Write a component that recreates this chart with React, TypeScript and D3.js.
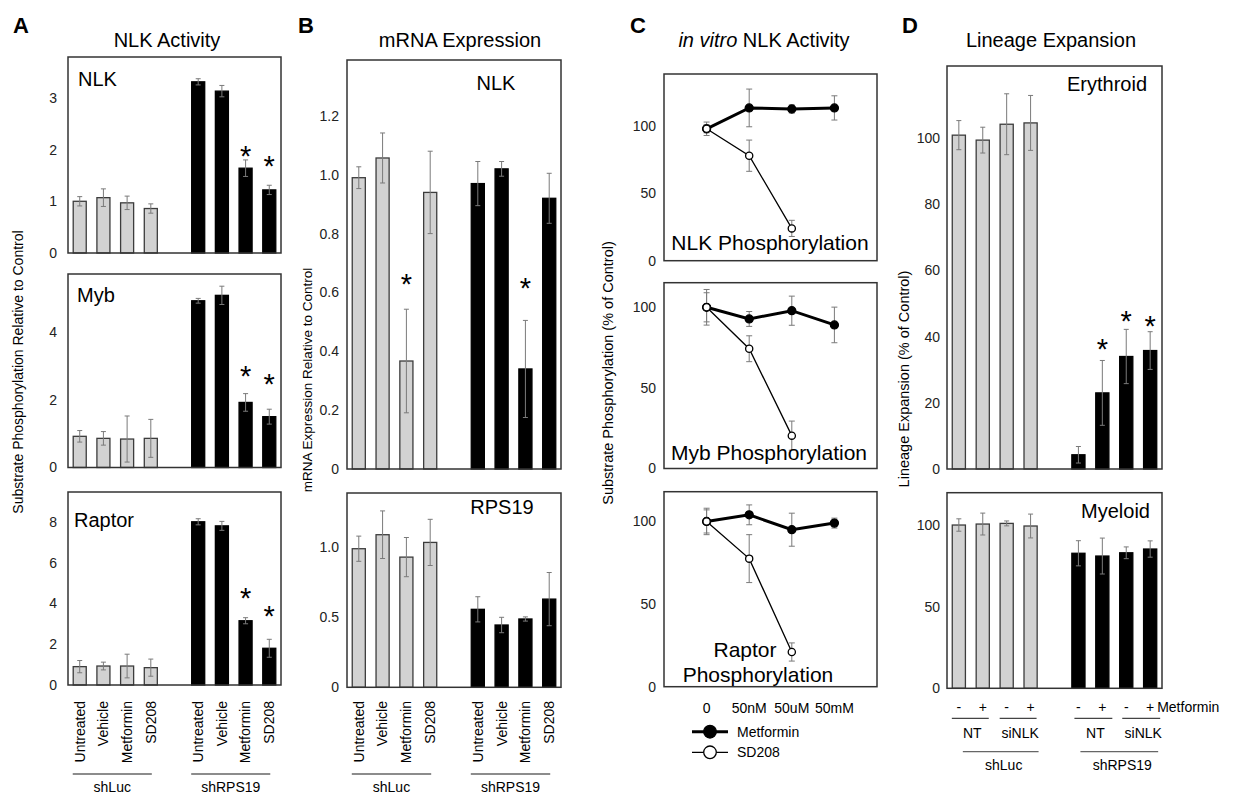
import React, { useEffect, useRef } from 'react';
import * as d3 from 'd3';

const FONT = '"Liberation Sans", Arial, Helvetica, sans-serif';

// shared categories for the bar panels
const treatments = ['Untreated', 'Vehicle', 'Metformin', 'SD208'];
const groups = ['shLuc', 'shRPS19'];

// A - NLK activity (substrate phosphorylation relative to control)
const nlkLuc = [1.0, 1.07, 0.97, 0.86];
const nlkLucErr = [0.09, 0.17, 0.13, 0.09];
const nlkRps = [3.31, 3.13, 1.64, 1.22];
const nlkRpsErr = [0.06, 0.11, 0.16, 0.09];
const nlkStar = [null, null, 2.0, 1.8];

const mybLuc = [0.92, 0.86, 0.84, 0.86];
const mybLucErr = [0.17, 0.2, 0.68, 0.56];
const mybRps = [4.92, 5.08, 1.92, 1.5];
const mybRpsErr = [0.07, 0.27, 0.26, 0.22];
const mybStar = [null, null, 2.87, 2.63];

const raptorLuc = [0.9, 0.93, 0.93, 0.85];
const raptorLucErr = [0.3, 0.19, 0.58, 0.42];
const raptorRps = [8.0, 7.8, 3.15, 1.8];
const raptorRpsErr = [0.15, 0.22, 0.15, 0.44];
const raptorStar = [null, null, 4.57, 3.7];

// B - mRNA expression relative to control
const mrnaNlkLuc = [0.99, 1.057, 0.367, 0.94];
const mrnaNlkLucErr = [0.037, 0.085, 0.176, 0.14];
const mrnaNlkLucStar = [null, null, 0.65, null];
const mrnaNlkRps = [0.97, 1.02, 0.34, 0.92];
const mrnaNlkRpsErr = [0.075, 0.025, 0.165, 0.085];
const mrnaNlkRpsStar = [null, null, 0.637, null];

const rps19Luc = [0.99, 1.09, 0.93, 1.035];
const rps19LucErr = [0.09, 0.17, 0.14, 0.165];
const rps19Rps = [0.557, 0.445, 0.488, 0.63];
const rps19RpsErr = [0.09, 0.055, 0.015, 0.19];

// C - in vitro NLK activity (% of control)
const doses = ['0', '50nM', '50uM', '50mM'];
const cNlkMet = [98, 113.5, 112.7, 113.5];
const cNlkMetErr = [3, 14, 3, 9];
const cNlkSd = [98, 78, 24];
const cNlkSdErr = [5, 11.6, 6];
const cMybMet = [99.6, 92.4, 97.5, 88.7];
const cMybMetErr = [11, 4.6, 9, 11];
const cMybSd = [99.6, 74, 20.3];
const cMybSdErr = [9, 8, 9];
const cRapMet = [100, 104, 95, 99];
const cRapMetErr = [7, 6, 10, 3];
const cRapSd = [100, 77.5, 21];
const cRapSdErr = [8, 14.5, 5.5];

// D - lineage expansion (% of control)
const sirna = ['NT', 'NT', 'siNLK', 'siNLK'];
const metformin = ['-', '+', '-', '+'];
const eryLuc = [100.9, 99.4, 104.2, 104.6];
const eryLucErr = [4.4, 3.9, 9.2, 8.3];
const eryRps = [4.3, 23, 34, 35.8];
const eryRpsErr = [2.5, 9.8, 8.2, 5.7];
const eryStar = [null, 38, 46.5, 45];
const myeLuc = [100, 100.6, 101, 99.4];
const myeLucErr = [3.8, 6.7, 1.5, 7.3];
const myeRps = [82.7, 81, 83, 85.3];
const myeRpsErr = [7.7, 11, 3.6, 5];

const slots = [
  ...[0, 1, 2, 3].map((i) => `${groups[0]}|${i}`),
  'gap',
  ...[0, 1, 2, 3].map((i) => `${groups[1]}|${i}`),
];

const GRAY = '#d2d2d2';
const ERR = '#7a7a7a';

function barPanel(svg, p) {
  const g = svg.append('g');
  const x = d3.scaleBand().domain(slots).range([p.x0, p.x1]).paddingInner(0.45).paddingOuter(0.22);
  const y = d3.scaleLinear().domain([0, p.max]).range([p.base, p.top]);

  const rows = groups.flatMap((grp, gi) =>
    p.vals[gi].map((v, i) => ({
      key: `${grp}|${i}`,
      gi,
      v,
      e: p.errs[gi][i],
      star: p.stars ? p.stars[gi][i] : null,
    }))
  );

  g.selectAll('rect.bar')
    .data(rows)
    .join('rect')
    .attr('x', (d) => x(d.key))
    .attr('y', (d) => y(d.v))
    .attr('width', x.bandwidth())
    .attr('height', (d) => y(0) - y(d.v))
    .attr('fill', (d) => (d.gi === 0 ? GRAY : '#000'))
    .attr('stroke', (d) => (d.gi === 0 ? '#3c3c3c' : '#000'))
    .attr('stroke-width', 1.3);

  const cx = (d) => x(d.key) + x.bandwidth() / 2;
  const eb = g.selectAll('g.err').data(rows).join('g').attr('stroke', ERR).attr('stroke-width', 1);
  eb.append('line').attr('x1', cx).attr('x2', cx).attr('y1', (d) => y(Math.max(0, d.v - d.e))).attr('y2', (d) => y(d.v + d.e));
  eb.append('line').attr('x1', (d) => cx(d) - 2.5).attr('x2', (d) => cx(d) + 2.5).attr('y1', (d) => y(d.v + d.e)).attr('y2', (d) => y(d.v + d.e));
  eb.append('line').attr('x1', (d) => cx(d) - 2.5).attr('x2', (d) => cx(d) + 2.5).attr('y1', (d) => y(Math.max(0, d.v - d.e))).attr('y2', (d) => y(Math.max(0, d.v - d.e)));

  g.selectAll('text.star')
    .data(rows.filter((d) => d.star != null))
    .join('text')
    .attr('x', cx)
    .attr('y', (d) => y(d.star) + 16)
    .attr('text-anchor', 'middle')
    .attr('font-size', 29)
    .text('*');

  g.append('rect')
    .attr('x', p.x0)
    .attr('y', p.top)
    .attr('width', p.x1 - p.x0)
    .attr('height', p.base - p.top)
    .attr('fill', 'none')
    .attr('stroke', '#333')
    .attr('stroke-width', 1.5);

  const ax = g
    .append('g')
    .attr('transform', `translate(${p.x0},0)`)
    .call(d3.axisLeft(y).tickValues(p.ticks).tickSize(0).tickPadding(p.pad).tickFormat(p.fmt));
  ax.select('.domain').remove();
  ax.selectAll('text').attr('font-size', 14).attr('font-family', FONT).attr('fill', '#222');

  g.append('text')
    .attr('x', p.lx)
    .attr('y', p.ly)
    .attr('text-anchor', p.anchor || 'start')
    .attr('font-size', 20)
    .text(p.label);

  return { x, rows, cx };
}

function treatmentAxis(svg, x) {
  const g = svg.append('g');
  groups.forEach((grp, gi) => {
    const keys = [0, 1, 2, 3].map((i) => `${grp}|${i}`);
    const centers = keys.map((k) => x(k) + x.bandwidth() / 2);
    g.selectAll(null)
      .data(treatments)
      .join('text')
      .attr('transform', (d, i) => `translate(${centers[i]},701) rotate(-90)`)
      .attr('text-anchor', 'end')
      .attr('dy', '0.35em')
      .attr('font-size', 14)
      .text((d) => d);
    const a = centers[0] - 7;
    const b = centers[3] + 1;
    g.append('line').attr('x1', a).attr('x2', b).attr('y1', 774).attr('y2', 774).attr('stroke', '#666').attr('stroke-width', 1.5);
    g.append('text').attr('x', (a + b) / 2).attr('y', 792).attr('text-anchor', 'middle').attr('font-size', 14).text(grp);
  });
}

function linePanel(svg, p) {
  const g = svg.append('g');
  const x = d3.scalePoint().domain(doses).range([p.x0, p.x1]).padding(1);
  const y = d3.scaleLinear().domain([0, p.max]).range([p.base, p.top]);
  const series = [
    { vals: p.met, errs: p.metErr, w: 3, r: 4, fill: '#000' },
    { vals: p.sd, errs: p.sdErr, w: 1.3, r: 3.6, fill: '#fff' },
  ];
  series.forEach((s) => {
    const pts = s.vals.map((v, i) => ({ x: x(doses[i]), v, e: s.errs[i] }));
    const eb = g.append('g').attr('stroke', ERR).attr('stroke-width', 1);
    pts.forEach((d) => {
      eb.append('line').attr('x1', d.x).attr('x2', d.x).attr('y1', y(d.v - d.e)).attr('y2', y(d.v + d.e));
      eb.append('line').attr('x1', d.x - 3).attr('x2', d.x + 3).attr('y1', y(d.v - d.e)).attr('y2', y(d.v - d.e));
      eb.append('line').attr('x1', d.x - 3).attr('x2', d.x + 3).attr('y1', y(d.v + d.e)).attr('y2', y(d.v + d.e));
    });
  });
  series.forEach((s) => {
    const line = d3.line().x((d, i) => x(doses[i])).y((d) => y(d));
    g.append('path').datum(s.vals).attr('d', line).attr('fill', 'none').attr('stroke', '#000').attr('stroke-width', s.w);
    g.selectAll(null)
      .data(s.vals)
      .join('circle')
      .attr('cx', (d, i) => x(doses[i]))
      .attr('cy', (d) => y(d))
      .attr('r', s.r)
      .attr('fill', s.fill)
      .attr('stroke', '#000')
      .attr('stroke-width', 1.3);
  });

  g.append('rect')
    .attr('x', p.x0)
    .attr('y', p.top)
    .attr('width', p.x1 - p.x0)
    .attr('height', p.base - p.top)
    .attr('fill', 'none')
    .attr('stroke', '#333')
    .attr('stroke-width', 1.5);

  const ax = g
    .append('g')
    .attr('transform', `translate(${p.x0},0)`)
    .call(d3.axisLeft(y).tickValues([0, 50, 100]).tickSize(0).tickPadding(8));
  ax.select('.domain').remove();
  ax.selectAll('text').attr('font-size', 14).attr('font-family', FONT).attr('fill', '#222');

  p.labels.forEach((l) => {
    g.append('text').attr('x', l.x).attr('y', l.y).attr('text-anchor', 'middle').attr('font-size', 21).text(l.t);
  });
  return x;
}

export default function App() {
  const ref = useRef(null);

  useEffect(() => {
    const svg = d3.select(ref.current);
    svg.selectAll('*').remove();
    svg.attr('font-family', FONT);

    // panel letters and titles
    const letters = [
      ['A', 13],
      ['B', 298],
      ['C', 630],
      ['D', 902],
    ];
    letters.forEach(([t, x]) => {
      svg.append('text').attr('x', x).attr('y', 33).attr('font-size', 22).attr('font-weight', 'bold').text(t);
    });
    svg.append('text').attr('x', 167).attr('y', 47).attr('text-anchor', 'middle').attr('font-size', 20).text('NLK Activity');
    svg.append('text').attr('x', 460).attr('y', 47).attr('text-anchor', 'middle').attr('font-size', 20).text('mRNA Expression');
    const ct = svg.append('text').attr('x', 764).attr('y', 47).attr('text-anchor', 'middle').attr('font-size', 20);
    ct.append('tspan').attr('font-style', 'italic').text('in vitro');
    ct.append('tspan').text(' NLK Activity');
    svg.append('text').attr('x', 1051).attr('y', 47).attr('text-anchor', 'middle').attr('font-size', 20).text('Lineage Expansion');

    // y axis titles
    const yTitle = (x, y, t, fs) =>
      svg
        .append('text')
        .attr('transform', `translate(${x},${y}) rotate(-90)`)
        .attr('text-anchor', 'middle')
        .attr('dy', '0.35em')
        .attr('font-size', fs)
        .text(t);
    yTitle(18, 372, 'Substrate Phosphorylation Relative to Control', 14);
    yTitle(307, 380, 'mRNA Expression Relative to Control', 13.5);
    yTitle(608, 373, 'Substrate Phosphorylation (% of Control)', 14.5);
    yTitle(904, 379, 'Lineage Expansion (% of Control)', 14.5);

    const intFmt = (d) => String(d);
    const decFmt = (d) => (d === 0 ? '0' : d3.format('.1f')(d));

    // Panel A
    const A = { x0: 68, x1: 281, pad: 11, fmt: intFmt, lx: 78, anchor: 'start' };
    barPanel(svg, {
      ...A, top: 57, base: 253, max: 3.79, ticks: [0, 1, 2, 3],
      vals: [nlkLuc, nlkRps], errs: [nlkLucErr, nlkRpsErr], stars: [[], nlkStar],
      label: 'NLK', ly: 86,
    });
    barPanel(svg, {
      ...A, top: 274, base: 467.5, max: 5.71, ticks: [0, 2, 4],
      vals: [mybLuc, mybRps], errs: [mybLucErr, mybRpsErr], stars: [[], mybStar],
      label: 'Myb', ly: 302, lx: 77,
    });
    const aLast = barPanel(svg, {
      ...A, top: 492, base: 685, max: 9.46, ticks: [0, 2, 4, 6, 8],
      vals: [raptorLuc, raptorRps], errs: [raptorLucErr, raptorRpsErr], stars: [[], raptorStar],
      label: 'Raptor', ly: 527, lx: 74,
    });
    treatmentAxis(svg, aLast.x);

    // Panel B
    const B = { x0: 347, x1: 561, pad: 8, fmt: decFmt, anchor: 'middle' };
    barPanel(svg, {
      ...B, top: 60, base: 469, max: 1.39, ticks: [0, 0.2, 0.4, 0.6, 0.8, 1.0, 1.2],
      vals: [mrnaNlkLuc, mrnaNlkRps], errs: [mrnaNlkLucErr, mrnaNlkRpsErr], stars: [mrnaNlkLucStar, mrnaNlkRpsStar],
      label: 'NLK', lx: 496, ly: 90,
    });
    const bLast = barPanel(svg, {
      ...B, top: 493, base: 687.3, max: 1.388, ticks: [0, 0.5, 1.0],
      vals: [rps19Luc, rps19Rps], errs: [rps19LucErr, rps19RpsErr], stars: null,
      label: 'RPS19', lx: 502, ly: 514,
    });
    treatmentAxis(svg, bLast.x);

    // Panel C
    const C = { x0: 664, x1: 877 };
    linePanel(svg, {
      ...C, top: 74, base: 260.7, max: 138.7,
      met: cNlkMet, metErr: cNlkMetErr, sd: cNlkSd, sdErr: cNlkSdErr,
      labels: [{ t: 'NLK Phosphorylation', x: 770, y: 250 }],
    });
    linePanel(svg, {
      ...C, top: 282.7, base: 468.5, max: 114.8,
      met: cMybMet, metErr: cMybMetErr, sd: cMybSd, sdErr: cMybSdErr,
      labels: [{ t: 'Myb Phosphorylation', x: 769, y: 460 }],
    });
    const cx = linePanel(svg, {
      ...C, top: 491.7, base: 686.7, max: 118,
      met: cRapMet, metErr: cRapMetErr, sd: cRapSd, sdErr: cRapSdErr,
      labels: [
        { t: 'Raptor', x: 745, y: 657 },
        { t: 'Phosphorylation', x: 758, y: 681.5 },
      ],
    });
    svg
      .append('g')
      .selectAll('text')
      .data(doses)
      .join('text')
      .attr('x', (d) => cx(d))
      .attr('y', 713)
      .attr('text-anchor', 'middle')
      .attr('font-size', 14)
      .text((d) => d);
    // legend
    const leg = svg.append('g');
    [
      { t: 'Metformin', y: 731.7, w: 3, fill: '#000' },
      { t: 'SD208', y: 752.3, w: 1.3, fill: '#fff' },
    ].forEach((l) => {
      leg.append('line').attr('x1', 692).attr('x2', 728).attr('y1', l.y).attr('y2', l.y).attr('stroke', '#000').attr('stroke-width', l.w);
      leg.append('circle').attr('cx', 710).attr('cy', l.y).attr('r', 6.3).attr('fill', l.fill).attr('stroke', '#000').attr('stroke-width', 1.3);
      leg.append('text').attr('x', 737).attr('y', l.y + 5).attr('font-size', 14).text(l.t);
    });

    // Panel D
    const D = { x0: 947, x1: 1162, pad: 7, fmt: intFmt, anchor: 'end' };
    barPanel(svg, {
      ...D, top: 66, base: 469, max: 121.8, ticks: [0, 20, 40, 60, 80, 100],
      vals: [eryLuc, eryRps], errs: [eryLucErr, eryRpsErr], stars: [[], eryStar],
      label: 'Erythroid', lx: 1147, ly: 91,
    });
    const dLast = barPanel(svg, {
      ...D, top: 492.7, base: 688.3, max: 119.8, ticks: [0, 50, 100],
      vals: [myeLuc, myeRps], errs: [myeLucErr, myeRpsErr], stars: null,
      label: 'Myeloid', lx: 1150, ly: 518,
    });
    const dx = dLast.x;
    const dg = svg.append('g').attr('font-size', 14);
    groups.forEach((grp, gi) => {
      const centers = [0, 1, 2, 3].map((i) => dx(`${grp}|${i}`) + dx.bandwidth() / 2);
      dg.selectAll(null)
        .data(metformin)
        .join('text')
        .attr('x', (d, i) => centers[i])
        .attr('y', 712)
        .attr('text-anchor', 'middle')
        .text((d) => d);
      [0, 2].forEach((i) => {
        const a = centers[i] - 7 + gi * 3;
        const b = centers[i + 1] + 6 + gi * 4;
        dg.append('line').attr('x1', a).attr('x2', b).attr('y1', 718.3).attr('y2', 718.3).attr('stroke', '#444').attr('stroke-width', 1.3);
        dg.append('text').attr('x', (a + b) / 2 + 2).attr('y', 738).attr('text-anchor', 'middle').text(sirna[i]);
      });
      const a = centers[0] + 4 - gi * 2;
      const b = centers[3] + 8;
      dg.append('line').attr('x1', a).attr('x2', b).attr('y1', 751.7).attr('y2', 751.7).attr('stroke', '#666').attr('stroke-width', 1.3);
      dg.append('text').attr('x', (a + b) / 2 + 3).attr('y', 770).attr('text-anchor', 'middle').text(grp);
      if (gi === 1) {
        dg.append('text').attr('x', centers[3] + 7).attr('y', 712).text('Metformin');
      }
    });
  }, []);

  return (
    <svg
      ref={ref}
      width={1233}
      height={796}
      style={{ position: 'absolute', left: 0, top: 0, background: '#fff' }}
    />
  );
}
